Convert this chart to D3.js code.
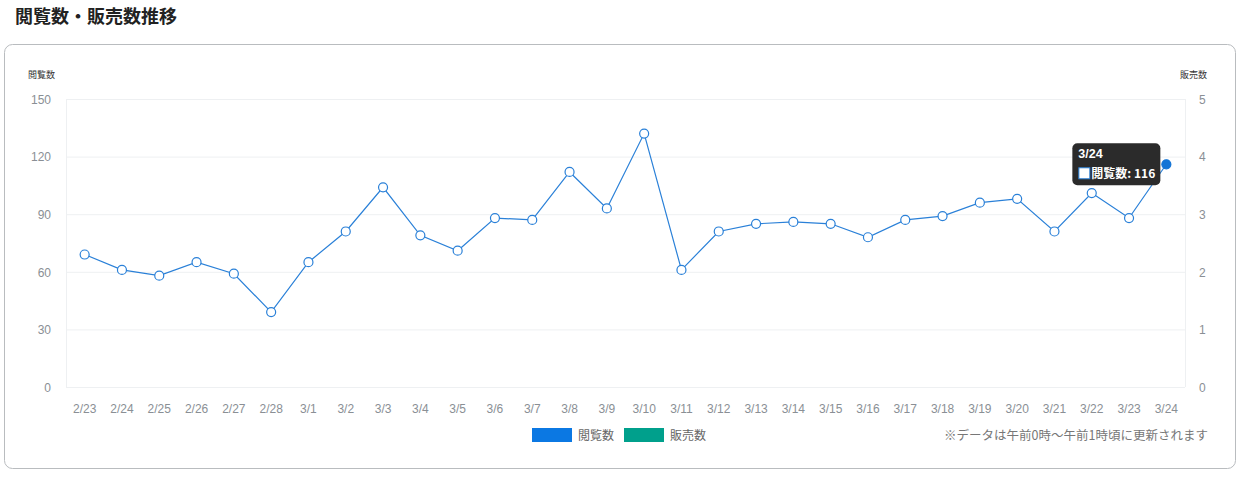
<!DOCTYPE html>
<html>
<head>
<meta charset="utf-8">
<script src="https://cdn.jsdelivr.net/npm/d3@7"></script>
<style>
  body { margin: 0; background: #fff; font-family: "Noto Sans CJK JP", "Noto Sans", sans-serif; }
</style>
</head>
<body>
<svg id="chart"></svg>
<script>
// data
const days = ["2/23","2/24","2/25","2/26","2/27","2/28","3/1","3/2","3/3","3/4","3/5","3/6","3/7","3/8","3/9","3/10","3/11","3/12","3/13","3/14","3/15","3/16","3/17","3/18","3/19","3/20","3/21","3/22","3/23","3/24"];
const views = [69,61,58,65,59,39,65,81,104,79,71,88,87,112,93,132,61,81,85,86,85,78,87,89,96,98,81,101,88,116];
const sales = [0,0,0,0,0,0,0,0,0,0,0,0,0,0,0,0,0,0,0,0,0,0,0,0,0,0,0,0,0,0];
const leftTicks = [0,30,60,90,120,150];
const rightTicks = [0,1,2,3,4,5];

const W = 1247, H = 477;
const margin = {top: 99, bottom: 90, left: 66, right: 62};
const blue = "#2a80d8", green = "#00a08c";

const svg = d3.select("#chart").attr("width", W).attr("height", H);

// title
svg.append("text").attr("x", 15).attr("y", 23)
  .attr("font-size", "18px").attr("font-weight", "bold").attr("fill", "#222")
  .text("閲覧数・販売数推移");

// card
svg.append("rect").attr("x", 4.5).attr("y", 44.5).attr("width", 1231).attr("height", 424)
  .attr("rx", 8).attr("fill", "#fff").attr("stroke", "#b9bcbf");

const x = d3.scaleBand().domain(days).range([margin.left, W - margin.right]);
const y = d3.scaleLinear().domain([0,150]).range([H - margin.bottom, margin.top]);
const y2 = d3.scaleLinear().domain([0,5]).range([H - margin.bottom, margin.top]);

// grid
const grid = svg.append("g");
grid.selectAll("line.h").data(leftTicks).join("line")
  .attr("x1", margin.left).attr("x2", W - margin.right)
  .attr("y1", d => y(d) + 0.5).attr("y2", d => y(d) + 0.5)
  .attr("stroke", "#eef0f2");
grid.selectAll("line.v").data([margin.left, W - margin.right]).join("line")
  .attr("x1", d => d + 0.5).attr("x2", d => d + 0.5)
  .attr("y1", margin.top).attr("y2", H - margin.bottom)
  .attr("stroke", "#eef0f2");

// axes
const yAxis = svg.append("g").attr("transform", `translate(${margin.left - 12},0)`)
  .call(d3.axisLeft(y).tickValues(leftTicks).tickSize(0));
const y2Axis = svg.append("g").attr("transform", `translate(${W - margin.right + 11},0)`)
  .call(d3.axisRight(y2).tickValues(rightTicks).tickFormat(d3.format("d")).tickSize(0));
const xAxis = svg.append("g").attr("transform", `translate(0,${H - margin.bottom + 12})`)
  .call(d3.axisBottom(x).tickSize(0));
[yAxis, y2Axis, xAxis].forEach(a => {
  a.select(".domain").remove();
  a.selectAll("text").attr("fill", "#8a8f95").attr("font-size", "12px")
    .attr("font-family", "'Liberation Sans', Arial, sans-serif");
});
yAxis.selectAll("text").attr("dy", "0.35em");
y2Axis.selectAll("text").attr("dy", "0.35em");
xAxis.selectAll("text").attr("dy", "0.9em");

// axis titles
svg.append("text").attr("x", 28).attr("y", 78).attr("font-size", "9px").attr("fill", "#333").text("閲覧数");
svg.append("text").attr("x", 1180).attr("y", 78).attr("font-size", "9px").attr("fill", "#333").text("販売数");

// sales bars (all zero)
svg.append("g").selectAll("rect").data(sales).join("rect")
  .attr("x", (d,i) => x(days[i]) + x.bandwidth()*0.2)
  .attr("width", x.bandwidth()*0.6)
  .attr("y", d => y2(d)).attr("height", d => y2(0) - y2(d))
  .attr("fill", green);

// views line
const cx = (d,i) => x(days[i]) + x.bandwidth()/2;
const line = d3.line().x(cx).y(d => y(d));
svg.append("path").datum(views).attr("d", line)
  .attr("fill", "none").attr("stroke", blue).attr("stroke-width", 1.2);

svg.append("g").selectAll("circle").data(views).join("circle")
  .attr("cx", cx).attr("cy", d => y(d)).attr("r", 4.5)
  .attr("fill", (d,i) => i === views.length - 1 ? "#1374d6" : "#fff")
  .attr("stroke", (d,i) => i === views.length - 1 ? "#1374d6" : blue)
  .attr("stroke-width", 1.2);

// tooltip on last point
const last = views.length - 1;
const tx = cx(views[last], last), ty = y(views[last]);
const tip = svg.append("g").attr("transform", `translate(${tx - 94},${ty - 21})`);
tip.append("rect").attr("width", 88).attr("height", 42).attr("rx", 5).attr("fill", "#2b2b2b");
tip.append("text").attr("x", 6).attr("y", 15).attr("font-size", "12.5px").attr("font-weight", "bold")
  .attr("fill", "#fff").attr("font-family", "'Liberation Sans', Arial, sans-serif").text(days[last]);
tip.append("rect").attr("x", 6.5).attr("y", 24.5).attr("width", 11).attr("height", 11)
  .attr("fill", "#fff").attr("stroke", blue);
tip.append("text").attr("x", 19).attr("y", 35).attr("font-size", "12px").attr("font-weight", "bold")
  .attr("fill", "#fff").text("閲覧数: " + views[last]);

// legend
const legend = svg.append("g").attr("transform", "translate(532,428)");
[["閲覧数", "#0b78e3"], ["販売数", green]].forEach((s, i) => {
  const g = legend.append("g").attr("transform", `translate(${i*92},0)`);
  g.append("rect").attr("width", 40).attr("height", 14).attr("fill", s[1]);
  g.append("text").attr("x", 46).attr("y", 11.5).attr("font-size", "12px").attr("fill", "#666").text(s[0]);
});

svg.append("text").attr("x", 1208).attr("y", 440).attr("text-anchor", "end")
  .attr("font-size", "12.5px").attr("fill", "#777")
  .text("※データは午前0時～午前1時頃に更新されます");
</script>
</body>
</html>
